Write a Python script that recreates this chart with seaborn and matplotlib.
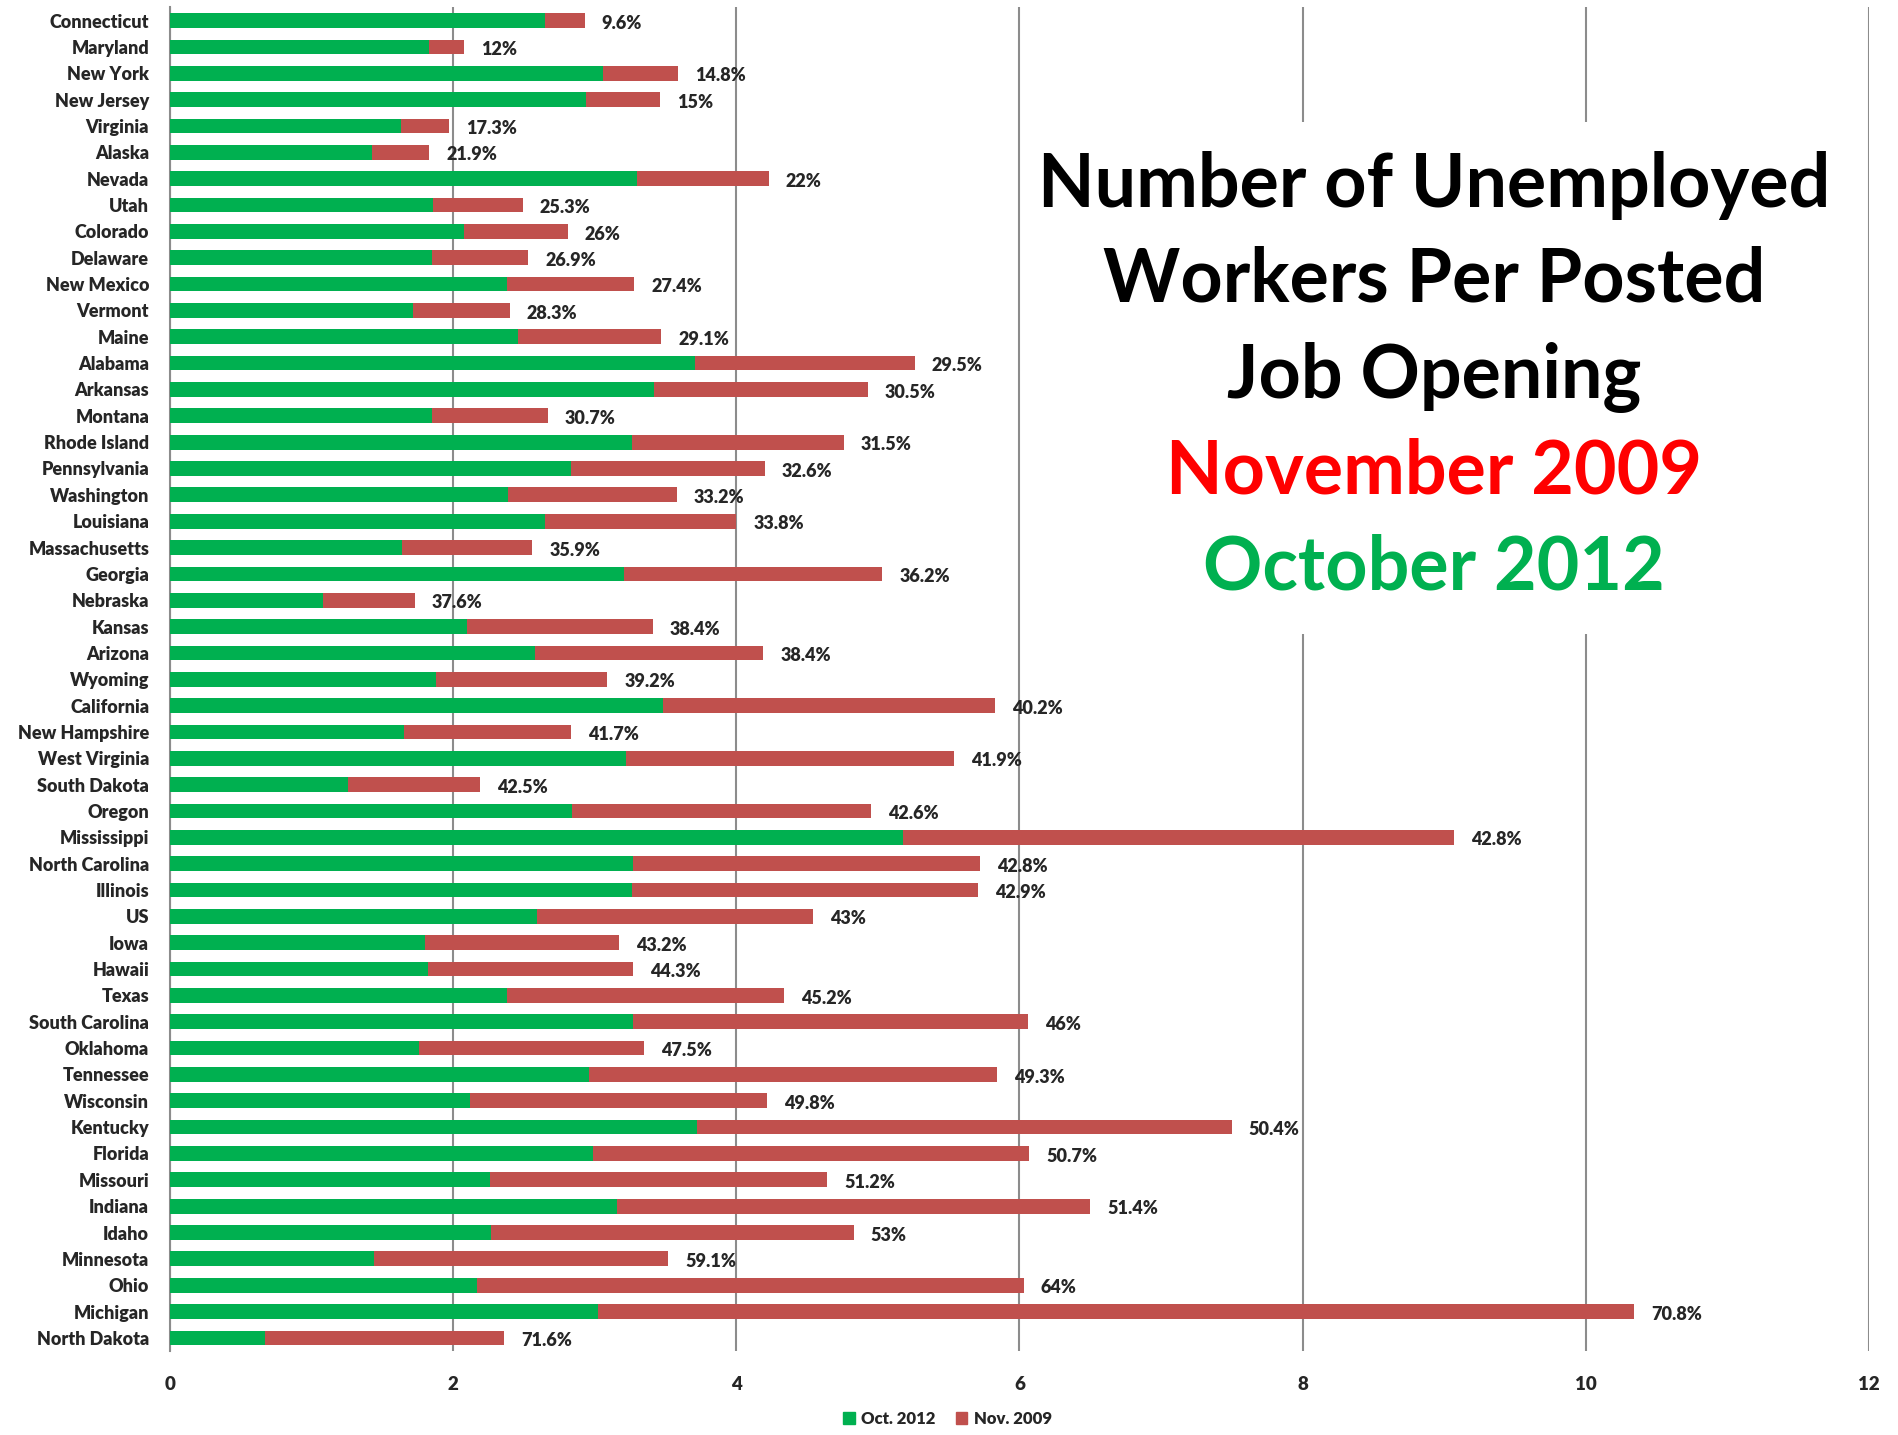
import matplotlib.pyplot as plt
import matplotlib.patches as mpatches
import pandas as pd
import seaborn as sns

# states in the order shown, top to bottom
states = [
    "Connecticut", "Maryland", "New York", "New Jersey", "Virginia", "Alaska",
    "Nevada", "Utah", "Colorado", "Delaware", "New Mexico", "Vermont", "Maine",
    "Alabama", "Arkansas", "Montana", "Rhode Island", "Pennsylvania",
    "Washington", "Louisiana", "Massachusetts", "Georgia", "Nebraska", "Kansas",
    "Arizona", "Wyoming", "California", "New Hampshire", "West Virginia",
    "South Dakota", "Oregon", "Mississippi", "North Carolina", "Illinois", "US",
    "Iowa", "Hawaii", "Texas", "South Carolina", "Oklahoma", "Tennessee",
    "Wisconsin", "Kentucky", "Florida", "Missouri", "Indiana", "Idaho",
    "Minnesota", "Ohio", "Michigan", "North Dakota",
]
# unemployed workers per posted job opening
oct_2012 = [
    2.65, 1.83, 3.06, 2.94, 1.63, 1.43, 3.30, 1.86, 2.08, 1.85, 2.38, 1.72, 2.46,
    3.71, 3.42, 1.85, 3.26, 2.83, 2.39, 2.65, 1.64, 3.21, 1.08, 2.10, 2.58, 1.88,
    3.48, 1.65, 3.22, 1.26, 2.84, 5.18, 3.27, 3.26, 2.59, 1.80, 1.82, 2.38, 3.27,
    1.76, 2.96, 2.12, 3.72, 2.99, 2.26, 3.16, 2.27, 1.44, 2.17, 3.02, 0.67,
]
nov_2009 = [
    2.93, 2.08, 3.59, 3.46, 1.97, 1.83, 4.23, 2.49, 2.81, 2.53, 3.28, 2.40, 3.47,
    5.26, 4.93, 2.67, 4.76, 4.20, 3.58, 4.00, 2.56, 5.03, 1.73, 3.41, 4.19, 3.09,
    5.83, 2.83, 5.54, 2.19, 4.95, 9.07, 5.72, 5.71, 4.54, 3.17, 3.27, 4.34, 6.06,
    3.35, 5.84, 4.22, 7.50, 6.07, 4.64, 6.50, 4.83, 3.52, 6.03, 10.34, 2.36,
]
# decline labels
decline = [
    "9.6%", "12%", "14.8%", "15%", "17.3%", "21.9%", "22%", "25.3%", "26%",
    "26.9%", "27.4%", "28.3%", "29.1%", "29.5%", "30.5%", "30.7%", "31.5%",
    "32.6%", "33.2%", "33.8%", "35.9%", "36.2%", "37.6%", "38.4%", "38.4%",
    "39.2%", "40.2%", "41.7%", "41.9%", "42.5%", "42.6%", "42.8%", "42.8%",
    "42.9%", "43%", "43.2%", "44.3%", "45.2%", "46%", "47.5%", "49.3%", "49.8%",
    "50.4%", "50.7%", "51.2%", "51.4%", "53%", "59.1%", "64%", "70.8%", "71.6%",
]
x_ticks = [0, 2, 4, 6, 8, 10, 12]

GREEN = "#00B050"
RED = "#C0504D"
GRID = "#8C8C8C"
SMALL_WEIGHT = "heavy"

df = pd.DataFrame({"state": states, "oct": oct_2012, "nov": nov_2009, "pct": decline})

sns.set_style("white")
plt.rcParams["font.family"] = ["Lato", "DejaVu Sans"]
plt.rcParams["font.weight"] = "bold"

fig = plt.figure(figsize=(18.99, 14.35), dpi=100)
ax = fig.add_axes([0.0895, 0.0585, 0.8947, 0.9363])

# Nov 2009 drawn full length, Oct 2012 laid over it
sns.barplot(data=df, x="nov", y="state", color=RED, width=0.56,
            saturation=1, linewidth=0, ax=ax, zorder=3)
sns.barplot(data=df, x="oct", y="state", color=GREEN, width=0.56,
            saturation=1, linewidth=0, ax=ax, zorder=4)

for i, row in df.iterrows():
    ax.text(row["nov"] + 0.12, i + 0.1, row["pct"], va="center", ha="left",
            fontsize=13, fontweight=SMALL_WEIGHT, zorder=6)

ax.set_xlim(0, 12)
ax.set_ylim(len(states) - 0.5, -0.5)
ax.set_xticks(x_ticks)
ax.set_xticklabels([str(t) for t in x_ticks], fontsize=13.5, fontweight=SMALL_WEIGHT)
ax.tick_params(axis="x", length=0, pad=18)
ax.tick_params(axis="y", length=0, pad=15, labelsize=13)
for lab in ax.get_yticklabels():
    lab.set_fontweight(SMALL_WEIGHT)
ax.set_xlabel("")
ax.set_ylabel("")

ax.grid(axis="x", color=GRID, linewidth=1.5, zorder=0)
ax.grid(axis="y", visible=False)
ax.set_axisbelow(True)
for side in ["top", "right", "bottom"]:
    ax.spines[side].set_visible(False)
ax.spines["left"].set_color(GRID)
ax.spines["left"].set_linewidth(1.5)

# white panel behind the title so the grid lines stop there
ax.add_patch(mpatches.Rectangle((0.503, 0.5336), 0.494, 0.3811, transform=ax.transAxes,
                                facecolor="white", edgecolor="none", zorder=2))

title_lines = [
    ("Number of Unemployed", "black"),
    ("Workers Per Posted", "black"),
    ("Job Opening", "black"),
    ("November 2009", "#FF0000"),
    ("October 2012", GREEN),
]
baselines = [207, 302, 398, 493, 590]
for (txt, col), yb in zip(title_lines, baselines):
    fig.text(0.755, 1 - yb / 1435, txt, ha="center", va="baseline",
             fontsize=53, fontweight="bold", color=col)

handles = [mpatches.Patch(color=GREEN, label="Oct. 2012"),
           mpatches.Patch(color=RED, label="Nov. 2009")]
fig.legend(handles=handles, loc="lower center", bbox_to_anchor=(0.499, 0.0), ncol=2,
           frameon=False, fontsize=12, handlelength=0.7, handleheight=0.7,
           columnspacing=1.2, handletextpad=0.4, borderaxespad=0.1,
           prop={"weight": SMALL_WEIGHT, "size": 12})

fig.savefig("out.png", dpi=100)
plt.close(fig)
